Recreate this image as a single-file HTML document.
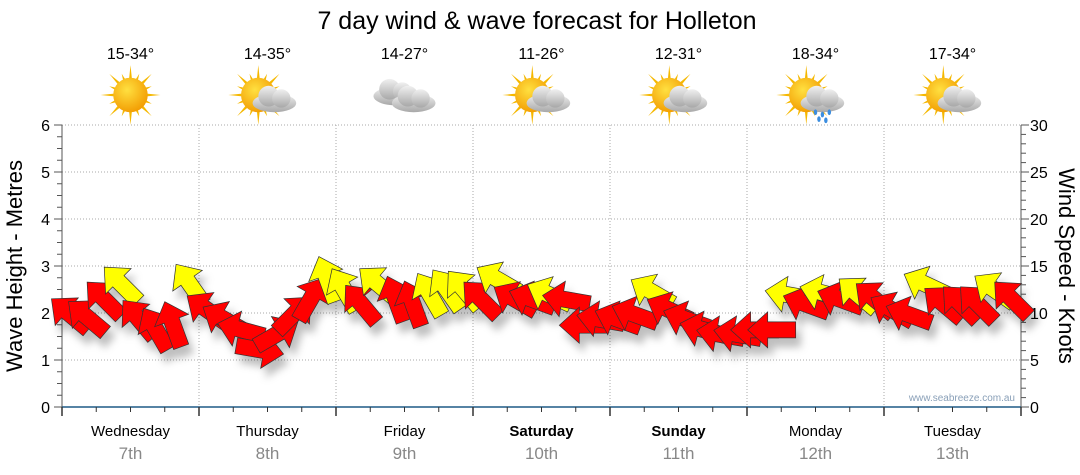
<!DOCTYPE html>
<html><head><meta charset="utf-8"><style>
body{margin:0;background:#fff;}
svg{display:block;font-family:"Liberation Sans",sans-serif;}
</style></head><body>
<svg id="chart" width="1080" height="475" viewBox="0 0 1080 475">
<defs>
<filter id="sh" x="-50%" y="-50%" width="200%" height="200%"><feDropShadow dx="5" dy="9" stdDeviation="4" flood-color="#000" flood-opacity="0.25"/></filter>
<radialGradient id="sunG" cx="0.4" cy="0.35" r="0.7"><stop offset="0" stop-color="#ffe040"/><stop offset="1" stop-color="#f29a00"/></radialGradient>
<linearGradient id="cloudG" x1="0" y1="0" x2="0" y2="1"><stop offset="0" stop-color="#f0f0f0"/><stop offset="1" stop-color="#a8a8a8"/></linearGradient>
</defs>
<text x="537" y="29" font-size="25" text-anchor="middle" fill="#000">7 day wind &amp; wave forecast for Holleton</text>
<g id="grid"></g><g id="axes"></g><g id="header"></g><g id="marks" filter="url(#sh)"></g>
<text transform="translate(22,266) rotate(-90)" font-size="22" text-anchor="middle">Wave Height - Metres</text>
<text transform="translate(1059,266) rotate(90)" font-size="22" text-anchor="middle">Wind Speed - Knots</text>
<text x="1015" y="401" font-size="10" text-anchor="end" fill="#8aa0b8">www.seabreeze.com.au</text>
</svg>
<script>
const days=["Wednesday","Thursday","Friday","Saturday","Sunday","Monday","Tuesday"];
const dates=["7th","8th","9th","10th","11th","12th","13th"];
const boldDays=[false,false,false,true,true,false,false];
const temps=["15-34°","14-35°","14-27°","11-26°","12-31°","18-34°","17-34°"];
const icons=["sun","suncloud","cloud","suncloud","suncloud","rain","suncloud"];
const waveTicks=[0,1,2,3,4,5,6];
const windTicks=[0,5,10,15,20,25,30];
const windSpeed=[9.8,9.5,11.4,13.0,9.3,8.2,8.7,13.0, 10.3,9.3,8.2,6.1,7.7,9.8,11.4,13.5, 12.4,10.9,13.0,11.4,10.9,11.9,12.4,12.4, 11.4,13.5,11.4,11.4,11.9,11.4,8.7,9.3, 9.3,9.8,12.2,10.3,9.3,8.2,7.7,7.7, 8.2,8.2,11.9,10.9,12.1,11.4,11.9,11.4, 10.3,9.8,13.0,10.9,10.9,10.9,12.4,11.4];
const windDir=[-50,-50,-45,-45,-40,-30,-20,-35, -55,-60,-75,100,60,45,30,-20, -30,-40,-50,-20,-20,-30,-35,-40, -45,-60,-60,-70,-65,-80,-90,-80, -70,-70,-60,-65,-70,-75,-80,-80, -90,-90,-80,-70,-75,-70,-50,-50, -60,-70,-65,-50,-45,-45,-55,-45];
const windColor=["r","r","r","y","r","r","r","y", "r","r","r","r","r","r","r","y", "y","r","y","r","r","y","y","y", "r","y","r","r","y","r","r","r", "r","r","y","r","r","r","r","r", "r","r","y","r","y","r","y","r", "r","r","y","r","r","r","y","r"];

const X0=62,X1=1021,Y0=407,Y1=125,NS="http://www.w3.org/2000/svg";
const dayW=(X1-X0)/7;
const xDay=d=>X0+d*dayW;
const xStep=i=>X0+(i+0.5)*dayW/8;
const yWave=v=>Y0-(v/6)*(Y0-Y1);
const yWind=v=>Y0-(v/30)*(Y0-Y1);
function el(tag,attrs,parent,txt){const e=document.createElementNS(NS,tag);for(const k in attrs)e.setAttribute(k,attrs[k]);if(txt!==undefined)e.textContent=txt;parent.appendChild(e);return e;}
const grid=document.getElementById('grid'),axes=document.getElementById('axes'),header=document.getElementById('header'),marks=document.getElementById('marks');
waveTicks.forEach(v=>{if(v>0){const l=el('line',{x1:X0,x2:X1,y1:yWave(v),y2:yWave(v),stroke:'#aaa','stroke-dasharray':'1,2'},grid);

}
const t=el('text',{x:50,y:yWave(v)+6,'font-size':16,'text-anchor':'end'},axes,String(v));

});
windTicks.forEach(v=>{const t=el('text',{x:1030,y:yWind(v)+6,'font-size':16,'text-anchor':'start'},axes,String(v));

});
for(let i=0;i<=24;i++){const y=yWave(i/4);el('line',{x1:X0-(i%4?5:8),x2:X0,y1:y,y2:y,stroke:'#555'},axes);}
for(let i=0;i<=30;i++){const y=yWind(i);el('line',{x1:X1,x2:X1+(i%5?5:8),y1:y,y2:y,stroke:'#555'},axes);}
el('line',{x1:X0,x2:X0,y1:Y1,y2:Y0,stroke:'#555'},axes);
el('line',{x1:X1,x2:X1,y1:Y1,y2:Y0,stroke:'#555'},axes);
el('line',{x1:X0,x2:X1,y1:Y0,y2:Y0,stroke:'#1f5a85','stroke-width':1.5},axes);
for(let d=0;d<=7;d++){const x=xDay(d);
 if(d>0&&d<7)el('line',{x1:x,x2:x,y1:Y1,y2:Y0,stroke:'#aaa','stroke-dasharray':'1,2'},grid);
 el('line',{x1:x,x2:x,y1:Y0,y2:Y0+9,stroke:'#333','stroke-width':1.5},axes);
 if(d<7)for(let k=1;k<4;k++){const xx=x+k*dayW/4;el('line',{x1:xx,x2:xx,y1:Y0,y2:Y0+5,stroke:'#333'},axes);}}
days.forEach((n,d)=>{const cx=xDay(d)+dayW/2;
 const a=el('text',{x:cx,y:436,'font-size':15,'text-anchor':'middle','font-weight':boldDays[d]?'bold':'normal'},axes,n);
 
 
 const b=el('text',{x:cx,y:459,'font-size':17,'text-anchor':'middle',fill:'#888'},axes,dates[d]);
 
 
 const t=el('text',{x:cx,y:59,'font-size':16,'text-anchor':'middle'},header,temps[d]);
 
 
 const g=el('g',{transform:'translate('+cx+',95) scale(1.15)'},header);
 
 
 const ic=icons[d];
 if(ic!=='cloud'){const sx=ic==='sun'?0:-8;
  for(let r=0;r<16;r++){const ang=r*Math.PI/8,L=r%2?20:26;
   el('polygon',{points:[sx+Math.cos(ang-0.12)*12,Math.sin(ang-0.12)*12,sx+Math.cos(ang)*L,Math.sin(ang)*L,sx+Math.cos(ang+0.12)*12,Math.sin(ang+0.12)*12].join(','),fill:'#f5b800'},g);}
  el('circle',{cx:sx,cy:0,r:15,fill:'url(#sunG)'},g);}
 function cloud(ox,oy){el('ellipse',{cx:ox,cy:oy+3,rx:19,ry:8,fill:'url(#cloudG)'},g);el('circle',{cx:ox-5,cy:oy-3,r:9,fill:'url(#cloudG)'},g);el('circle',{cx:ox+6,cy:oy-1,r:8,fill:'url(#cloudG)'},g);}
 if(ic==='cloud'){cloud(-8,-2);cloud(8,4);}
 if(ic==='suncloud'||ic==='rain')cloud(6,4);
 if(ic==='rain'){[[0,15],[6,17],[12,15],[3,21],[9,22]].forEach(p=>el('ellipse',{cx:p[0],cy:p[1],rx:1.5,ry:2.5,fill:'#3a8de0'},g));}
});
const arrowPts="0,-25 18,-5 8,-5 8,23 -8,23 -8,-5 -18,-5";
windSpeed.forEach((v,i)=>{const x=xStep(i),y=yWind(v);
 const p=el('polygon',{points:arrowPts,transform:'translate('+x.toFixed(1)+','+y.toFixed(1)+') rotate('+windDir[i]+')',fill:windColor[i]==='y'?'#ffff00':'#ff0000',stroke:'#333','stroke-width':0.7},marks);
 
 });
</script>
</body></html>
